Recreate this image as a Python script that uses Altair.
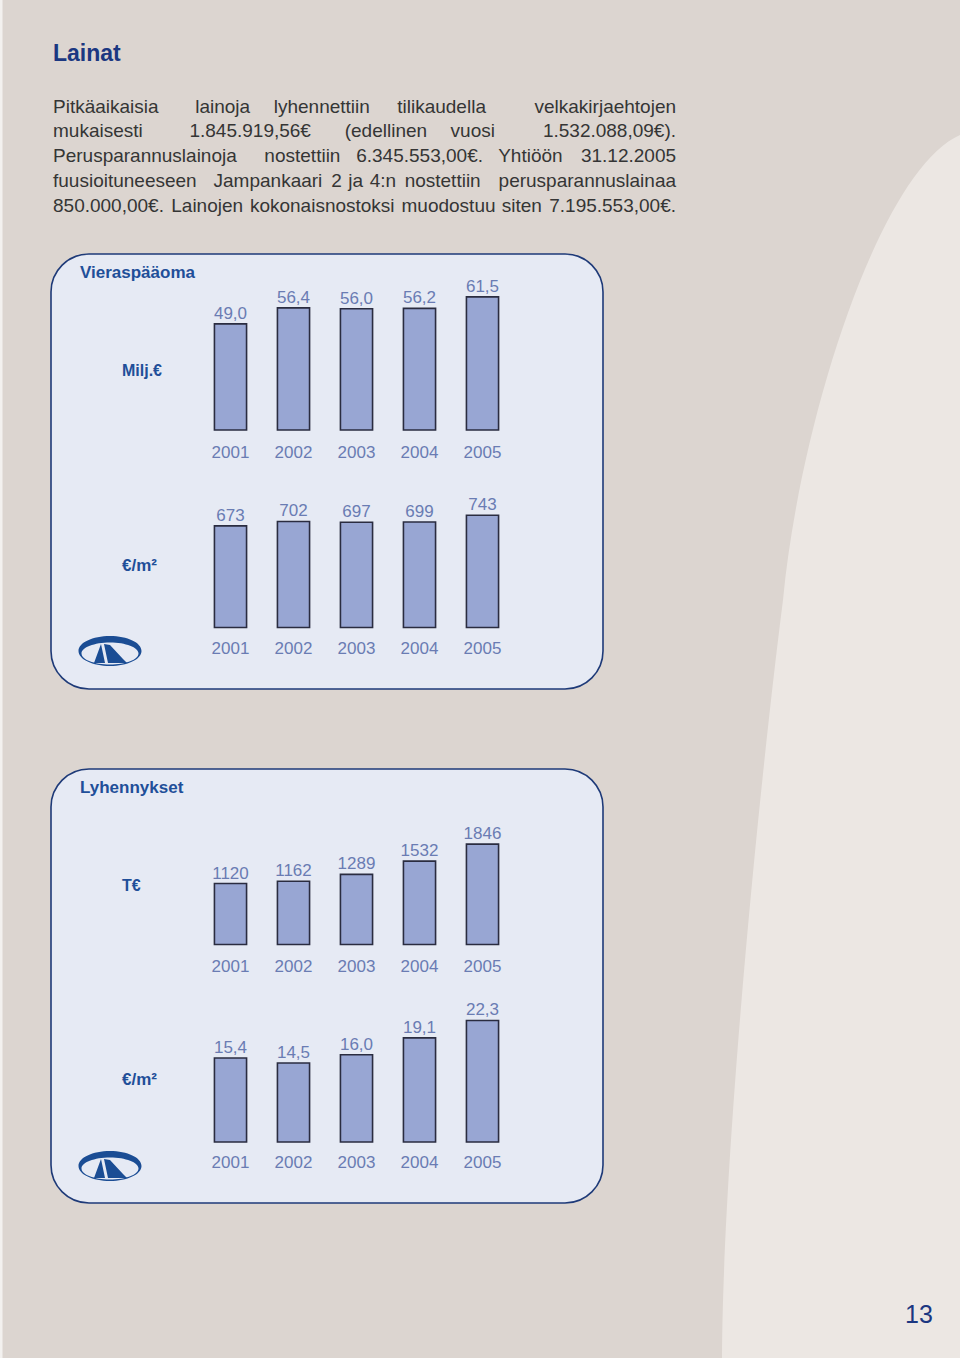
import altair as alt
import pandas as pd

# ---------------- data ----------------
years = ["2001", "2002", "2003", "2004", "2005"]
vieraspaaoma_milj = [49.0, 56.4, 56.0, 56.2, 61.5]
vieraspaaoma_per_m2 = [673, 702, 697, 699, 743]
lyhennykset_teur = [1120, 1162, 1289, 1532, 1846]
lyhennykset_per_m2 = [15.4, 14.5, 16.0, 19.1, 22.3]

title_text = "Lainat"
paragraph_lines = [
    "Pitkäaikaisia lainoja lyhennettiin tilikaudella velkakirjaehtojen",
    "mukaisesti 1.845.919,56€ (edellinen vuosi 1.532.088,09€).",
    "Perusparannuslainoja nostettiin 6.345.553,00€. Yhtiöön 31.12.2005",
    "fuusioituneeseen Jampankaari 2 ja 4:n nostettiin perusparannuslainaa",
    "850.000,00€. Lainojen kokonaisnostoksi muodostuu siten 7.195.553,00€.",
]
panel_titles = ["Vieraspääoma", "Lyhennykset"]
unit_labels = ["Milj.€", "€/m²", "T€", "€/m²"]
page_number = "13"

# ---------------- style ----------------
FONT = "Liberation Sans"
BG = "#dcd5d0"
BG_LIGHT = "#ece7e3"
NAVY = "#1b3781"
BLUE = "#1f4f99"
NUM = "#6a7cb3"
TEXT = "#353535"
PANEL_FILL = "#e6eaf4"
PANEL_EDGE = "#1e3a78"
BAR_FILL = "#98a6d3"
BAR_EDGE = "#2a2c40"
LOGO = "#1b4d94"

ONE = pd.DataFrame({"k": [0]})


def txt(s, x, y, size, color, weight="normal", align="left", baseline="alphabetic"):
    return alt.Chart(ONE).mark_text(
        text=s, font=FONT, fontSize=size, fontWeight=weight, color=color,
        align=align, baseline=baseline,
    ).encode(x=alt.value(x), y=alt.value(y))


layers = []

# white-ish left edge strip
layers.append(alt.Chart(ONE).mark_rect(fill="#f3f1ef").encode(
    x=alt.value(0), x2=alt.value(2.5), y=alt.value(0), y2=alt.value(1358)))

# light curved background region (decorative path, pixel units with size=4 -> scale 1)
CURVE = ("M 960 135 C 880 170 800 420 783 600 "
         "C 760 780 723 1150 722 1358 L 960 1358 Z")
layers.append(alt.Chart(ONE).mark_point(
    shape=CURVE, size=4, filled=True, fill=BG_LIGHT, opacity=1, strokeWidth=0
).encode(x=alt.value(0), y=alt.value(0)))

# title
layers.append(txt(title_text, 53, 61, 23, NAVY, weight="bold"))

# ---------------- justified paragraph ----------------
ARIAL = {
    " ": 0.278, "(": 0.333, ")": 0.333, ",": 0.278, ".": 0.278, ":": 0.278, "€": 0.556,
    "P": 0.667, "Y": 0.667, "J": 0.5, "L": 0.556,
    "a": 0.556, "b": 0.556, "c": 0.5, "d": 0.556, "e": 0.556, "f": 0.278, "g": 0.556,
    "h": 0.556, "i": 0.222, "j": 0.222, "k": 0.5, "l": 0.222, "m": 0.833, "n": 0.556,
    "o": 0.556, "p": 0.556, "q": 0.556, "r": 0.333, "s": 0.5, "t": 0.278, "u": 0.556,
    "v": 0.5, "w": 0.722, "x": 0.5, "y": 0.5, "z": 0.5, "ä": 0.556, "ö": 0.556,
}
FS = 19
X0, X1 = 53, 676
BASE0, LEAD = 112.5, 24.8


def tw(s):
    return sum(ARIAL.get(c, 0.556) for c in s) * FS


rows = []
for i, line in enumerate(paragraph_lines):
    words = line.split(" ")
    widths = [tw(w) for w in words]
    sp = ARIAL[" "] * FS
    natural = sum(widths) + sp * (len(words) - 1)
    k = (X1 - X0) / natural
    cum = 0.0
    for j, (w, a) in enumerate(zip(words, widths)):
        if j == 0:
            x = X0
        elif j == len(words) - 1:
            x = X1 - a
        else:
            x = X0 + k * cum + (k * a - a) / 2
        rows.append({"word": w, "px": x, "py": BASE0 + i * LEAD})
        cum += a + sp
para = pd.DataFrame(rows)
layers.append(alt.Chart(para).mark_text(
    font=FONT, fontSize=FS, color=TEXT, align="left", baseline="alphabetic"
).encode(
    x=alt.X("px:Q", scale=None, axis=None),
    y=alt.Y("py:Q", scale=None, axis=None),
    text="word:N",
))

# ---------------- panels ----------------
for (y0, y1) in [(254, 689), (769, 1203)]:
    layers.append(alt.Chart(ONE).mark_rect(
        cornerRadius=38, fill=PANEL_FILL, stroke=PANEL_EDGE, strokeWidth=1.6
    ).encode(x=alt.value(51), x2=alt.value(603), y=alt.value(y0), y2=alt.value(y1)))

layers.append(txt(panel_titles[0], 80, 273, 17, BLUE, weight="bold", baseline="middle"))
layers.append(txt(panel_titles[1], 80, 788, 17, BLUE, weight="bold", baseline="middle"))
for lab, yy in zip(unit_labels, [371, 566, 886, 1080]):
    layers.append(txt(lab, 122, yy, 17 if "m" in lab else 16, BLUE, weight="bold", baseline="middle"))

# logos
RING = ("M -31.5 0 A 31.5 15 0 1 1 31.5 0 A 31.5 15 0 1 1 -31.5 0 Z "
        "M -28.5 2.5 A 28.5 11 0 1 0 28.5 2.5 A 28.5 11 0 1 0 -28.5 2.5 Z")
MPEAKS = "M -16 12 L -9 -7 L -5 12 Z M -6 -7 L 0 -6 L 13 8 L 17 12 L -2 12 Z"
for cy in [651, 1166]:
    for shp in (RING, MPEAKS):
        layers.append(alt.Chart(ONE).mark_point(
            shape=shp, size=4, filled=True, fill=LOGO, opacity=1, strokeWidth=0
        ).encode(x=alt.value(110), y=alt.value(cy)))

# page number
layers.append(txt(page_number, 919, 1323, 25, NAVY, align="center"))


# ---------------- bar charts ----------------
def fmt1(v):
    return f"{v:.1f}".replace(".", ",")


def bar_block(values, labels, y_domain_max, base_px, top_px, year_y):
    df = pd.DataFrame({"year": years, "value": values, "label": labels})
    xs = alt.X("year:N", axis=None, scale=alt.Scale(
        domain=years, range=[199, 514], paddingInner=0.49, paddingOuter=0.245))
    ys = alt.Y("value:Q", axis=None, scale=alt.Scale(
        domain=[0, y_domain_max], range=[base_px, top_px], nice=False, zero=True))
    bars = alt.Chart(df).mark_bar(
        fill=BAR_FILL, stroke=BAR_EDGE, strokeWidth=1.6
    ).encode(x=xs, y=ys)
    vals = alt.Chart(df).mark_text(
        font=FONT, fontSize=17, color=NUM, baseline="alphabetic", dy=-5
    ).encode(x=xs, y=ys, text="label:N")
    yrs = alt.Chart(df).mark_text(
        font=FONT, fontSize=17, color=NUM, baseline="middle"
    ).encode(x=xs, y=alt.value(year_y), text="year:N")
    return alt.layer(bars, vals, yrs)


blocks = [
    bar_block(vieraspaaoma_milj, [fmt1(v) for v in vieraspaaoma_milj], 60, 430, 300.1, 453),
    bar_block(vieraspaaoma_per_m2, [str(v) for v in vieraspaaoma_per_m2], 700, 627.5, 521.8, 649),
    bar_block(lyhennykset_teur, [str(v) for v in lyhennykset_teur], 2000, 944.5, 835.7, 967),
    bar_block(lyhennykset_per_m2, [fmt1(v) for v in lyhennykset_per_m2], 20, 1142, 1033, 1163),
]

chart = alt.layer(*layers, *blocks).resolve_scale(
    x="independent", y="independent"
).properties(
    width=960, height=1358, padding=0,
    autosize=alt.AutoSizeParams(type="none"),
).configure(background=BG).configure_view(strokeWidth=0, stroke=None)

chart.save("out.html", embed_options={"renderer": "svg", "actions": False})
